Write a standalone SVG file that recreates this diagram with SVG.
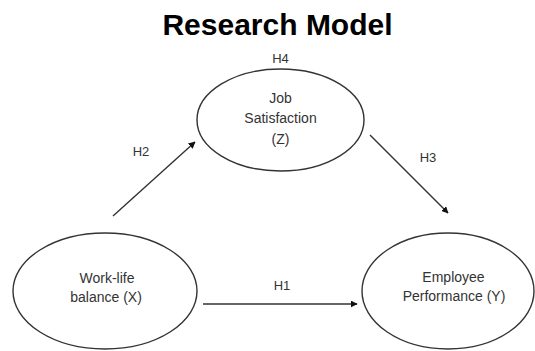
<svg xmlns="http://www.w3.org/2000/svg" width="535" height="351" viewBox="0 0 535 351">
<style>
.node{fill:#fff;stroke:#333;stroke-width:1.4}
.t{font-family:"Liberation Sans",Arial,sans-serif;font-size:14px;fill:#333;text-anchor:middle}
.h{font-family:"Liberation Sans",Arial,sans-serif;font-size:13px;fill:#333;text-anchor:middle}
.edge{stroke:#333;stroke-width:1.4;fill:none;marker-end:url(#arr)}
</style>
<defs>
<marker id="arr" viewBox="0 0 10 10" refX="9" refY="5" markerWidth="5" markerHeight="5" orient="auto" markerUnits="strokeWidth">
<path d="M0,0 L10,5 L0,10 z" fill="#111"/>
</marker>
</defs>
<rect width="535" height="351" fill="#fff"/>
<text x="277.5" y="35" font-family="Liberation Sans,Arial,sans-serif" font-size="30" font-weight="bold" text-anchor="middle" fill="#000">Research Model</text>
<g id="z">
<ellipse class="node" cx="280.5" cy="120" rx="83.5" ry="51"/>
<text class="t" x="280.5" y="103">Job</text>
<text class="t" x="280.5" y="123">Satisfaction</text>
<text class="t" x="280.5" y="144">(Z)</text>
</g>
<g id="x">
<ellipse class="node" cx="105" cy="291" rx="92" ry="58"/>
<text class="t" x="107" y="283">Work-life</text>
<text class="t" x="106" y="302">balance (X)</text>
</g>
<g id="y">
<ellipse class="node" cx="448" cy="291" rx="86" ry="58"/>
<text class="t" x="453.5" y="282">Employee</text>
<text class="t" x="454" y="301">Performance (Y)</text>
</g>
<g id="connectors">
<line class="edge" x1="113" y1="216" x2="195" y2="142"/>
<line class="edge" x1="370" y1="135" x2="448" y2="213"/>
<line class="edge" x1="203" y1="304" x2="357" y2="304"/>
</g>
<g id="labels">
<text class="h" x="280.5" y="63">H4</text>
<text class="h" x="141" y="156">H2</text>
<text class="h" x="428" y="162">H3</text>
<text class="h" x="282" y="290">H1</text>
</g>
</svg>
